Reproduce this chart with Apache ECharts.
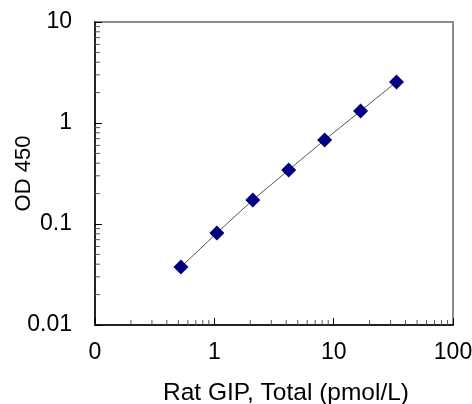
<!DOCTYPE html>
<html><head><meta charset="utf-8">
<script src="https://cdn.jsdelivr.net/npm/echarts@6/dist/echarts.min.js"></script>
<style>html,body{margin:0;padding:0;background:#fff}#c{width:472px;height:404px}</style>
</head><body><div id="c"></div>
<script>
const conc = [0.525, 1.05, 2.1, 4.2, 8.4, 16.8, 33.6];
const od = [0.0375, 0.0815, 0.173, 0.343, 0.679, 1.315, 2.55];
const xMinorTicks = [0.2,0.3,0.4,0.5,0.6,0.7,0.8,0.9,2,3,4,5,6,7,8,9,20,30,40,50,60,70,80,90];
const yMinorTicks = [0.02,0.03,0.04,0.05,0.06,0.07,0.08,0.09,0.2,0.3,0.4,0.5,0.6,0.7,0.8,0.9,2,3,4,5,6,7,8,9];
const X_MIN = 0.1, X_MAX = 100, Y_MIN = 0.01, Y_MAX = 10;
const font = 'Liberation Sans, Arial, sans-serif';

const chart = echarts.init(document.getElementById('c'));
const pts = conc.map((x, i) => [x, od[i]]);
chart.setOption({
  animation: false,
  grid: {left: 95, top: 22, right: 19, bottom: 79, containLabel: false, outerBoundsMode: 'none',
    show: true, borderColor: '#8c8c8c', borderWidth: 2},
  xAxis: {
    type: 'log', logBase: 10, min: X_MIN, max: X_MAX,
    name: 'Rat GIP, Total (pmol/L)', nameLocation: 'middle', nameGap: 56, nameMoveOverlap: false,
    nameTextStyle: {fontFamily: font, fontSize: 24.5, color: '#000', padding: [0, 0, 0, 24]},
    axisLine: {show: true, lineStyle: {color: '#000', width: 1.5}},
    axisTick: {show: true, inside: true, length: 7, lineStyle: {color: '#000'}},
    axisLabel: {fontFamily: font, fontSize: 23, color: '#000', margin: 16,
      formatter: v => (v < 0.5 ? '0' : String(Math.round(v)))},
    splitLine: {show: false}, minorTick: {show: false}
  },
  yAxis: {
    type: 'log', logBase: 10, min: Y_MIN, max: Y_MAX,
    name: 'OD 450', nameLocation: 'middle', nameGap: 60, nameMoveOverlap: false,
    nameTextStyle: {fontFamily: font, fontSize: 22, color: '#000'},
    axisLine: {show: true, lineStyle: {color: '#000', width: 1.5}},
    axisTick: {show: true, inside: true, length: 7, lineStyle: {color: '#000'}},
    axisLabel: {fontFamily: font, fontSize: 23, color: '#000', margin: 23,
      formatter: v => String(+v.toPrecision(3))},
    splitLine: {show: false}, minorTick: {show: false}
  },
  series: [
    {
      type: 'line', data: pts, symbol: 'none',
      lineStyle: {color: '#555', width: 1}, z: 2
    },
    {
      type: 'scatter', data: pts, symbol: 'diamond', symbolSize: 15,
      itemStyle: {color: '#000080', opacity: 1}, z: 3
    },
    {
      type: 'custom', clip: false, silent: true, z: 1,
      data: xMinorTicks.map(v => [v, Y_MIN]),
      renderItem: (params, api) => {
        const p = api.coord([api.value(0), api.value(1)]);
        return {type: 'line', shape: {x1: p[0], y1: p[1], x2: p[0], y2: p[1] - 5},
          style: {stroke: '#555', lineWidth: 1}};
      }
    },
    {
      type: 'custom', clip: false, silent: true, z: 1,
      data: yMinorTicks.map(v => [X_MIN, v]),
      renderItem: (params, api) => {
        const p = api.coord([api.value(0), api.value(1)]);
        return {type: 'line', shape: {x1: p[0], y1: p[1], x2: p[0] + 5, y2: p[1]},
          style: {stroke: '#555', lineWidth: 1}};
      }
    }
  ]
});
</script></body></html>
